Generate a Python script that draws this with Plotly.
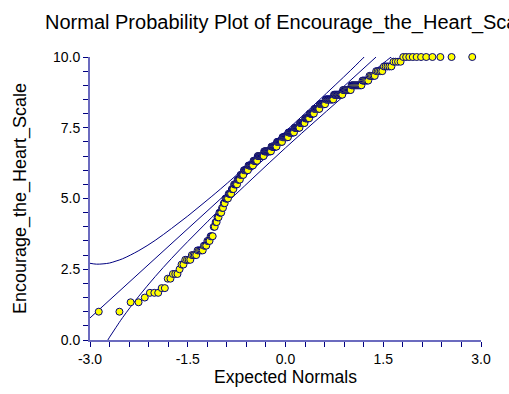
import plotly.graph_objects as go
from statistics import NormalDist

# ---- data: distinct scale values (sorted) and how many cases sit at each ----
levels = [1.0, 1.3333, 1.5, 1.6667, 1.8333, 2.1667, 2.3333, 2.5, 2.6667, 2.8333,
          3.0, 3.1667, 3.3333, 3.5, 3.6667, 4.0, 4.1667, 4.3333, 4.5, 4.6667,
          4.8333, 5.0, 5.1667, 5.3333, 5.5, 5.6667, 5.8333, 6.0, 6.1667, 6.3333,
          6.5, 6.6667, 6.8333, 7.0, 7.1667, 7.3333, 7.5, 7.6667, 7.8333, 8.0,
          8.1667, 8.3333, 8.5, 8.6667, 8.8333, 9.0, 9.1667, 9.3333, 9.5, 9.6667,
          9.8333, 10.0]
counts = [2, 2, 1, 3, 2, 2, 3, 1, 2, 4,
          4, 5, 3, 3, 3, 2, 2, 2, 3, 2,
          2, 4, 4, 3, 5, 4, 5, 7, 8, 7,
          11, 13, 10, 10, 11, 11, 10, 9, 8, 8,
          9, 9, 12, 12, 10, 11, 6, 5, 5, 5,
          4, 11]

# ---- reference line and confidence bands ----
band_x = [-3.0, -2.9, -2.8, -2.7, -2.6, -2.5, -2.25, -2.0, -1.75, -1.5, -1.25,
          -1.0, -0.5, 0.0, 0.5, 1.0, 1.25, 1.5, 1.75]
upper_y = [2.71, 2.68, 2.69, 2.72, 2.79, 2.87, 3.16, 3.52, 3.94, 4.38, 4.85,
           5.33, 6.34, 7.37, 8.44, 9.53, 10.10, 10.68, 11.29]
lower_y = [-1.15, -0.70, -0.29, 0.10, 0.45, 0.79, 1.55, 2.24, 2.88, 3.48, 4.06,
           4.63, 5.72, 6.79, 7.82, 8.83, 9.31, 9.78, 10.23]
center_x = [-3.0, 1.39]
center_y = [0.78, 10.0]

# ---- axis ticks ----
x_tickvals = [-3.0, -2.7, -2.4, -2.1, -1.8, -1.5, -1.2, -0.9, -0.6, -0.3, 0.0,
              0.3, 0.6, 0.9, 1.2, 1.5, 1.8, 2.1, 2.4, 2.7, 3.0]
x_labels = {-3.0: "-3.0", -1.5: "-1.5", 0.0: "0.0", 1.5: "1.5", 3.0: "3.0"}
y_tickvals = [i * 0.5 for i in range(21)]
y_labels = {0.0: "0.0", 2.5: "2.5", 5.0: "5.0", 7.5: "7.5", 10.0: "10.0"}

# sorted observations and their expected normal scores (Blom positions)
values = []
for v, c in zip(levels, counts):
    values += [v] * c
n = len(values)
nd = NormalDist()
expected = [nd.inv_cdf((i + 1 - 0.375) / (n + 0.25)) for i in range(n)]

NAVY = "#000080"
FONT = "Arial, Liberation Sans, sans-serif"

fig = go.Figure()
for yy in (upper_y, lower_y):
    fig.add_trace(go.Scatter(x=band_x, y=yy, mode="lines",
                             line=dict(color=NAVY, width=1, shape="spline"),
                             hoverinfo="skip", showlegend=False))
fig.add_trace(go.Scatter(x=center_x, y=center_y, mode="lines",
                         line=dict(color=NAVY, width=1), showlegend=False))
fig.add_trace(go.Scatter(x=expected, y=values, mode="markers", cliponaxis=False,
                         marker=dict(size=7, color="#FFFF00",
                                     line=dict(color=NAVY, width=1)),
                         showlegend=False))

fig.update_layout(
    width=509, height=394,
    margin=dict(l=90, r=28, t=57, b=49),
    paper_bgcolor="white", plot_bgcolor="white",
    font=dict(family=FONT, color="black", size=14),
    title=dict(text="Normal Probability Plot of Encourage_the_Heart_Scale",
               font=dict(size=20, family=FONT, color="black"),
               x=45 / 509, xanchor="left", xref="container",
               y=1 - 22 / 394, yanchor="middle", yref="container"),
)
fig.update_xaxes(range=[-3, 3], showgrid=False, zeroline=False,
                 showline=True, linecolor="#6b6bbf", linewidth=2,
                 ticks="outside", ticklen=5, tickwidth=1, tickcolor=NAVY,
                 tickvals=x_tickvals,
                 ticktext=[x_labels.get(round(v, 1), "") for v in x_tickvals],
                 tickfont=dict(size=14),
                 title=dict(text="Expected Normals", font=dict(size=17.5), standoff=3))
fig.update_yaxes(range=[0, 10], showgrid=False, zeroline=False,
                 showline=True, linecolor="#6b6bbf", linewidth=2,
                 ticks="outside", ticklen=5, tickwidth=1, tickcolor=NAVY,
                 tickvals=y_tickvals,
                 ticktext=[y_labels.get(round(v, 1), "") for v in y_tickvals],
                 tickfont=dict(size=14),
                 title=dict(text="Encourage_the_Heart_Scale", font=dict(size=18), standoff=22))

fig.write_html("out.html")
